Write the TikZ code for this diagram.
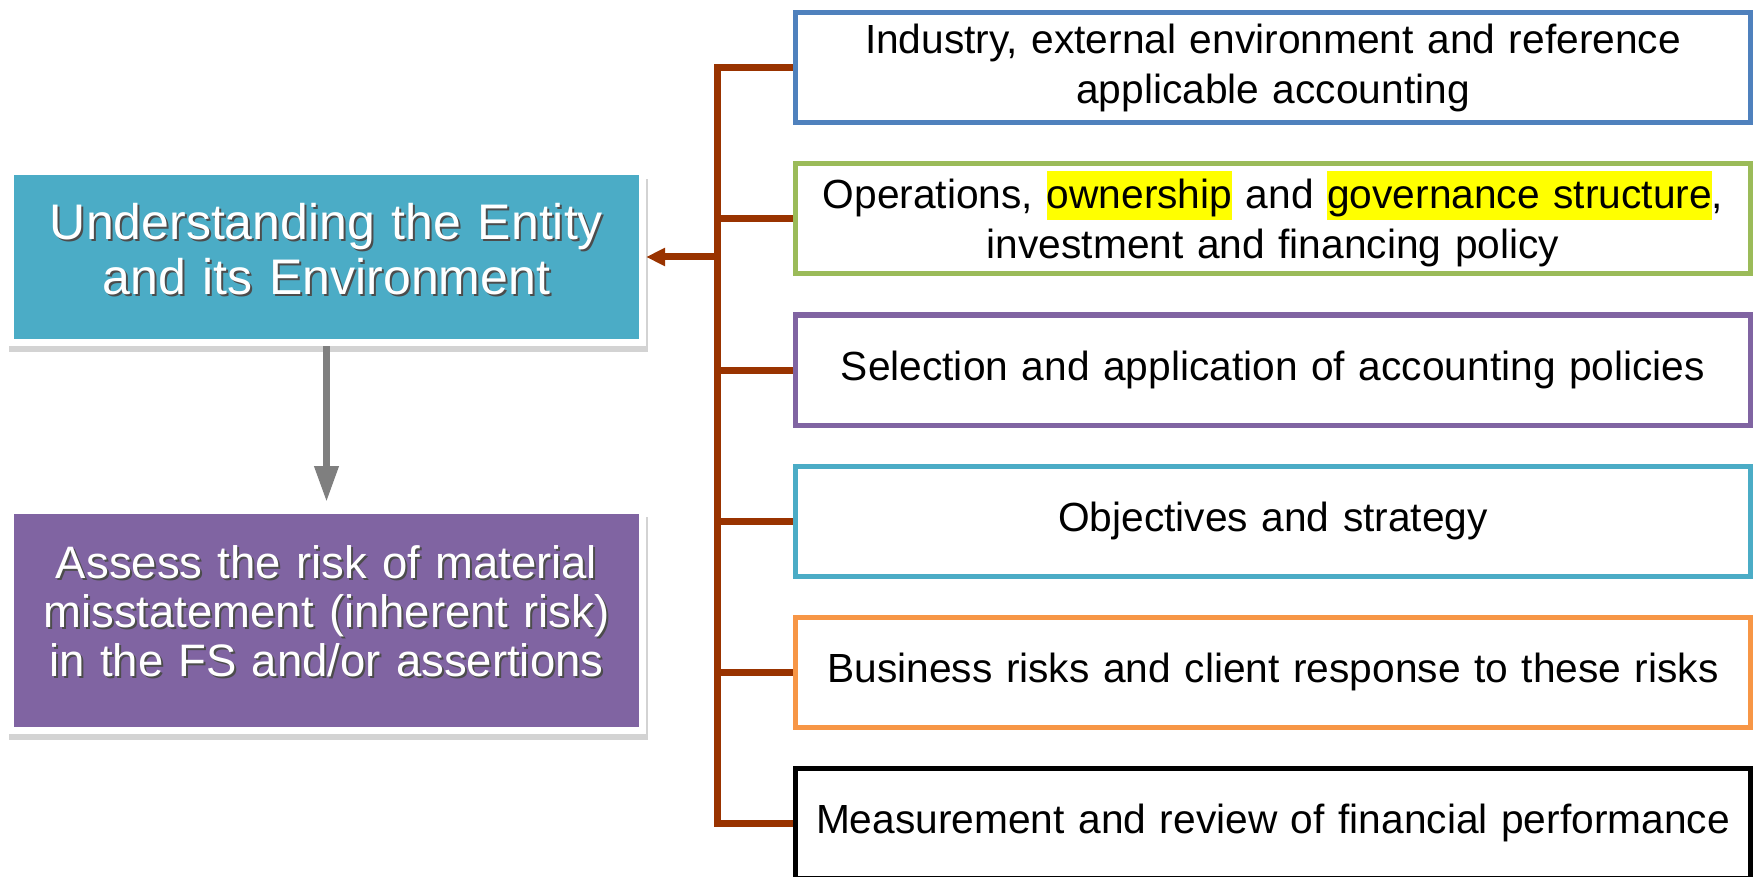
\documentclass[tikz,border=0pt]{standalone}
\usepackage{fontspec}
\setmainfont{Liberation Sans}
\usetikzlibrary{arrows.meta,shadows}
\definecolor{tealA}{HTML}{4BACC6}
\definecolor{purpA}{HTML}{8064A2}
\definecolor{bluA}{HTML}{4F81BD}
\definecolor{grnA}{HTML}{9BBB59}
\definecolor{orngA}{HTML}{F79646}
\definecolor{brwnA}{RGB}{153,51,0}
\definecolor{grayA}{HTML}{7F7F7F}
\definecolor{hlA}{HTML}{FFFF00}
\newcommand\shw[1]{\leavevmode\rlap{\kern2pt\raisebox{-2pt}{\textcolor{black!70}{#1}}}#1}
\newcommand\hlt[1]{{\setlength\fboxsep{0pt}\colorbox{hlA}{\rule[-0.3em]{0pt}{1.2em}#1}}}
\begin{document}
\begin{tikzpicture}[x=1pt,y=-1pt,
  leftbox/.style={draw=white, line width=7pt, inner sep=0pt, minimum width=632pt,
    text width=620pt, align=center, text=white,
    drop shadow={shadow xshift=2pt, shadow yshift=-8pt, shadow scale=1.012, opacity=0.35, fill=black!50}},
  rightbox/.style={draw, line width=5pt, fill=white, inner sep=0pt, minimum width=955pt,
    minimum height=110pt, text width=940pt, align=center, font=\fontsize{40.7}{50}\selectfont},
  bus/.style={brwnA, line width=7pt},
]
\useasboundingbox (0,0) rectangle (1756,877);
\node[leftbox, fill=tealA, minimum height=171pt, font=\fontsize{50}{55}\selectfont, text depth=70.5pt] (ent) at (326.5,257)
  {\shw{Understanding the Entity}\\\shw{and its Environment}};
\node[leftbox, fill=purpA, minimum height=220pt, font=\fontsize{45.5}{49}\selectfont, text depth=116pt] (risk) at (326.5,620.5)
  {\shw{Assess the risk of material}\\\shw{misstatement (inherent risk)}\\\shw{in the FS and/or assertions}};
\node[rightbox, draw=bluA] (b1) at (1273,68) {Industry, external environment and reference\\applicable accounting};
\node[rightbox, draw=grnA] (b2) at (1273,219) {Operations, \hlt{ownership} and \hlt{governance structure},\\investment and financing policy};
\node[rightbox, draw=purpA] (b3) at (1273,370) {Selection and application of accounting policies};
\node[rightbox, draw=tealA] (b4) at (1273,521) {Objectives and strategy};
\node[rightbox, draw=orngA] (b5) at (1273,672) {Business risks and client response to these risks};
\node[rightbox, draw=black] (b6) at (1273,823) {Measurement and review of financial performance};
\coordinate (xb) at (717,0);
\coordinate (jn) at (717,257);
\draw[bus] (b1.west) -- (b1.west -| xb) -- (b6.west -| xb) -- (b6.west);
\foreach \b in {b2,b3,b4,b5} \draw[bus] (\b.west) -- (\b.west -| xb);
\draw[bus, -{Triangle[length=19pt,width=17pt]}] (jn) -- (ent.east);
\draw[grayA, line width=7pt, -{Triangle[length=36pt,width=23pt]}, shorten >=5pt] (ent.south) -- (risk.north);
\end{tikzpicture}
\end{document}
